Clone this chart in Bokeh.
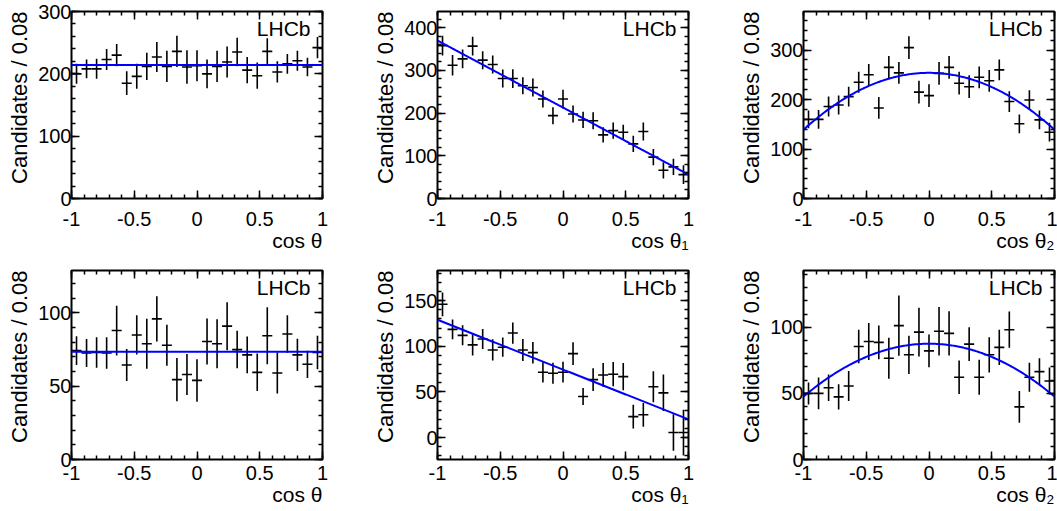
import numpy as np
from bokeh.plotting import figure
from bokeh.layouts import row, column
from bokeh.models import Label, LinearAxis, FixedTicker, Range1d, Title
from bokeh.embed import file_html
from bokeh.resources import INLINE

# ---------------- data ----------------
bin_centers = [-0.96, -0.88, -0.80, -0.72, -0.64, -0.56, -0.48, -0.40, -0.32, -0.24,
               -0.16, -0.08, 0.0, 0.08, 0.16, 0.24, 0.32, 0.40, 0.48, 0.56,
               0.64, 0.72, 0.80, 0.88, 0.96]
bin_half_width = 0.04

x_ticks = [-1, -0.5, 0, 0.5, 1]
x_tick_labels = {-1: "-1", -0.5: "-0.5", 0: "0", 0.5: "0.5", 1: "1"}

# top row
top_costheta = [200, 208, 208, 223, 230, 185, 196, 212, 227, 212, 236, 211, 213,
                200, 212, 219, 235, 206, 197, 236, 203, 216, 221, 211, 242]
top_costheta_err = [16, 15, 16, 17, 18, 19, 20, 22, 24, 25, 25, 27, 25,
                    23, 25, 25, 23, 21, 21, 21, 17, 16, 16, 15, 17]
top_costheta_fit = [214.0]                 # constant

top_costheta1 = [358, 312, 327, 357, 324, 314, 281, 281, 264, 260, 233, 194, 233,
                 198, 184, 182, 149, 159, 155, 128, 157, 97, 66, 74, 56]
top_costheta1_err = [23, 24, 22, 22, 21, 21, 21, 22, 20, 21, 20, 20, 22,
                     20, 19, 20, 18, 19, 18, 19, 21, 19, 19, 19, 22]
top_costheta1_fit = [213.0, -157.0]        # a + b x

top_costheta2 = [160, 160, 186, 189, 206, 235, 250, 183, 265, 254, 305, 215, 208,
                 253, 265, 233, 226, 245, 238, 260, 196, 151, 199, 159, 134]
top_costheta2_err = [18, 19, 20, 19, 20, 21, 22, 22, 23, 22, 23, 23, 23,
                     23, 23, 23, 23, 22, 22, 21, 21, 19, 20, 19, 19]
top_costheta2_fit = [254.0, 0.0, -115.0]   # a + b x + c x^2

# bottom row
bot_costheta = [74.3, 72.7, 73.0, 72.7, 88.0, 64.5, 85.0, 79.0, 96.0, 78.0, 54.5, 58.0, 54.0,
                80.5, 79.0, 91.0, 75.0, 71.4, 59.5, 84.5, 59.0, 85.7, 71.4, 65.0, 73.0]
bot_costheta_err = [9.8, 9.6, 10.4, 10.7, 17.0, 11.0, 13.4, 17.0, 15.5, 14.0, 14.8, 14.0, 14.5,
                    15.7, 16.8, 16.4, 12.8, 12.5, 12.8, 19.5, 14.0, 12.8, 11.0, 9.3, 11.4]
bot_costheta_fit = [73.6]

bot_costheta1 = [146.0, 118.5, 112.0, 101.5, 108.0, 96.0, 99.0, 114.5, 96.0, 93.0, 71.6, 70.5, 71.6,
                 92.0, 45.0, 63.5, 68.6, 69.4, 66.8, 23.0, 25.0, 55.7, 49.0, 5.5, 5.5]
bot_costheta1_err = [13.0, 10.7, 11.0, 11.6, 11.0, 11.6, 10.5, 11.6, 12.0, 11.8, 11.4, 11.6, 11.4,
                     12.5, 9.2, 12.5, 13.0, 13.3, 15.0, 13.0, 13.0, 17.0, 20.0, 20.0, 25.0]
bot_costheta1_fit = [74.5, -54.5]

bot_costheta2 = [50.0, 50.0, 54.3, 47.4, 55.6, 85.5, 89.3, 88.6, 76.6, 101.3, 79.2, 96.4, 82.2,
                 97.0, 95.4, 62.2, 87.3, 62.2, 79.2, 84.8, 98.2, 39.8, 62.2, 66.5, 59.4]
bot_costheta2_err = [8.3, 12.0, 10.0, 9.5, 11.4, 12.7, 14.0, 12.7, 15.5, 22.8, 14.5, 18.4, 12.4,
                     18.3, 16.8, 12.7, 12.7, 13.3, 13.3, 13.3, 13.7, 12.0, 11.0, 10.2, 10.2]
bot_costheta2_fit = [87.6, 0.0, -40.0]

y_label = "Candidates / 0.08"
x_labels = ["cos θ", "cos θ\u2081", "cos θ\u2082"]
lhcb_text = "LHCb"

FONT = "Liberation Sans"


def add_axis(p, place, ticks, minor, overrides=None, labels=True, standoff=0):
    ax = LinearAxis(ticker=FixedTicker(ticks=ticks, minor_ticks=minor))
    ax.axis_line_color = None
    ax.major_tick_in = 8
    ax.major_tick_out = 0
    ax.minor_tick_in = 4
    ax.minor_tick_out = 0
    ax.major_tick_line_color = "black"
    ax.minor_tick_line_color = "black"
    ax.major_tick_line_width = 1.5
    ax.minor_tick_line_width = 1.5
    if labels:
        ax.major_label_text_font = FONT
        ax.major_label_text_font_size = "20px"
        ax.major_label_text_color = "black"
        ax.major_label_standoff = standoff
        if overrides:
            ax.major_label_overrides = overrides
    else:
        ax.major_label_text_color = None
        ax.major_label_text_font_size = "1px"
        ax.major_label_standoff = 0
    p.add_layout(ax, place)
    return ax


def make_panel(yv, err, fit, yr, yticks, ystep, xlab, row_i, col_i):
    if row_i == 0:
        top, fh, bottom, xstand = 11, 187, 70, 13
    else:
        top, fh, bottom, xstand = 2, 189, 52, 6
    right = 44 if col_i < 2 else 3
    p = figure(frame_width=251, frame_height=fh,
               x_range=Range1d(-1, 1), y_range=Range1d(yr[0], yr[1]),
               output_backend="svg", toolbar_location=None,
               x_axis_location=None, y_axis_location=None,
               min_border_left=71, min_border_right=right,
               min_border_top=top, min_border_bottom=bottom)
    p.background_fill_color = "white"
    p.border_fill_color = "white"
    p.outline_line_color = "black"
    p.outline_line_width = 2
    p.grid.visible = False

    xminor = list(np.round(np.arange(-1.0, 1.0001, 0.1), 2))
    lo = np.ceil(yr[0] / ystep) * ystep
    yminor = list(np.arange(lo, yr[1] + 0.001, ystep))
    add_axis(p, "below", x_ticks, xminor, x_tick_labels, True, xstand)
    add_axis(p, "above", x_ticks, xminor, None, False)
    add_axis(p, "left", yticks, yminor, None, True, 0)
    add_axis(p, "right", yticks, yminor, None, False)

    xs = np.array(bin_centers)
    ys = np.array(yv)
    es = np.array(err)
    p.segment(x0=xs, y0=ys - es, x1=xs, y1=ys + es, line_color="black", line_width=1.6)
    p.segment(x0=xs - bin_half_width, y0=ys, x1=xs + bin_half_width, y1=ys,
              line_color="black", line_width=1.6)

    xc = np.linspace(-1, 1, 201)
    yc = np.zeros_like(xc)
    for k, c in enumerate(fit):
        yc = yc + c * xc ** k
    p.line(xc, yc, line_color="#0000ff", line_width=2)

    p.add_layout(Label(x=1, y=yr[1], x_units="data", y_units="data",
                       x_offset=-12, y_offset=-5, text=lhcb_text,
                       text_align="right", text_baseline="top",
                       text_font=FONT, text_font_size="21px", text_color="black"))

    p.add_layout(Title(text=y_label, align="right", vertical_align="bottom",
                       text_font=FONT, text_font_size="22px", text_font_style="normal",
                       text_color="black", standoff=8, offset=0), "left")
    p.add_layout(Title(text=xlab, align="right", vertical_align="top",
                       text_font=FONT, text_font_size="21px", text_font_style="normal",
                       text_color="black", standoff=0, offset=0), "below")
    return p


p1 = make_panel(top_costheta, top_costheta_err, top_costheta_fit, (0, 300), [0, 100, 200, 300], 20, x_labels[0], 0, 0)
p2 = make_panel(top_costheta1, top_costheta1_err, top_costheta1_fit, (0, 438), [0, 100, 200, 300, 400], 20, x_labels[1], 0, 1)
p3 = make_panel(top_costheta2, top_costheta2_err, top_costheta2_fit, (0, 378), [0, 100, 200, 300], 20, x_labels[2], 0, 2)
p4 = make_panel(bot_costheta, bot_costheta_err, bot_costheta_fit, (0, 129), [0, 50, 100], 10, x_labels[0], 1, 0)
p5 = make_panel(bot_costheta1, bot_costheta1_err, bot_costheta1_fit, (-24, 183), [0, 50, 100, 150], 10, x_labels[1], 1, 1)
p6 = make_panel(bot_costheta2, bot_costheta2_err, bot_costheta2_fit, (0, 143), [0, 50, 100], 10, x_labels[2], 1, 2)

layout = column(row(p1, p2, p3), row(p4, p5, p6))
open("out.html", "w").write(file_html(layout, INLINE))
